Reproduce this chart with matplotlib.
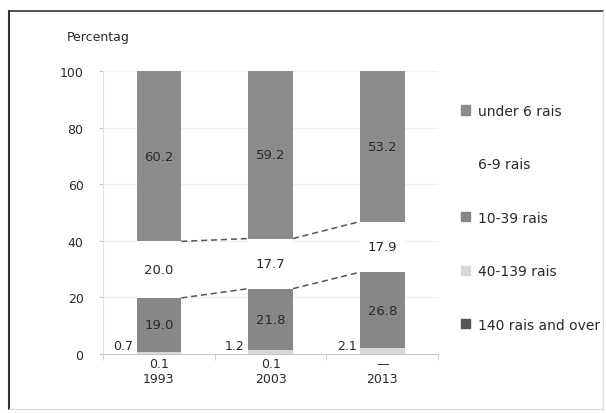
import numpy as np
import matplotlib.pyplot as plt
from matplotlib.patches import Patch
from matplotlib.lines import Line2D

years = ["1993", "2003", "2013"]
over140 = [0.1, 0.1, 0.0]
r40_139 = [0.7, 1.2, 2.1]
r10_39 = [19.0, 21.8, 26.8]
r6_9 = [20.0, 17.7, 17.9]
under6 = [60.2, 59.2, 53.2]
over140_labels = ["0.1", "0.1", "\u2014"]

legend_names = ["under 6 rais", "6-9 rais", "10-39 rais", "40-139 rais", "140 rais and over"]
colors = {"under6": "#8b8b8b", "r6_9": "#ffffff", "r10_39": "#878787",
          "r40_139": "#d8d8d8", "over140": "#555555"}

fig = plt.figure(figsize=(6.06, 4.14), dpi=100)
ax = fig.add_axes([0.170, 0.1425, 0.553, 0.6836])

x = np.arange(len(years))
w = 0.4
b0 = np.zeros(3)
ax.bar(x, over140, w, bottom=b0, color=colors["over140"], zorder=3)
b1 = b0 + over140
ax.bar(x, r40_139, w, bottom=b1, color=colors["r40_139"], zorder=3)
b2 = b1 + r40_139
ax.bar(x, r10_39, w, bottom=b2, color=colors["r10_39"], zorder=3)
b3 = b2 + r10_39
ax.bar(x, r6_9, w, bottom=b3, color=colors["r6_9"], zorder=3)
b4 = b3 + r6_9
ax.bar(x, under6, w, bottom=b4, color=colors["under6"], zorder=3)

# labels inside
lab = dict(ha="center", va="center", fontsize=9.5, color="#2a2a2a", zorder=4)
for i in range(3):
    ax.text(x[i], b2[i] + r10_39[i] / 2, f"{r10_39[i]:.1f}", **lab)
    ax.text(x[i], b3[i] + r6_9[i] / 2, f"{r6_9[i]:.1f}", **lab)
    ax.text(x[i], b4[i] + under6[i] / 2, f"{under6[i]:.1f}", **lab)
    ax.text(x[i] - w / 2 - 0.03, 3.0, f"{r40_139[i]:.1f}", ha="right", va="center",
            fontsize=9, color="#2a2a2a", zorder=4)

# series lines for 6-9 rais
for i in range(2):
    for lvl in (b3, b4):
        ax.plot([x[i] + w / 2, x[i + 1] - w / 2], [lvl[i], lvl[i + 1]], ls=(0, (4, 2.5)),
                color="#555555", lw=1.1, zorder=2)

ax.set_xlim(-0.5, 2.5)
ax.set_ylim(0, 100)
ax.set_yticks(range(0, 101, 20))
ax.set_xticks(x)
ax.set_xticklabels([f"{a}\n{y}" for a, y in zip(over140_labels, years)], fontsize=9, color="#2a2a2a")
ax.set_xticks([-0.5, 0.5, 1.5, 2.5], minor=True)
ax.tick_params(axis="x", which="major", length=0, pad=2)
ax.tick_params(axis="x", which="minor", length=4, color="#c8c8c8")
ax.tick_params(axis="y", length=3, color="#c8c8c8", labelsize=9, labelcolor="#2a2a2a", pad=11)
ax.grid(axis="y", color="#f0f0f0", lw=0.8, zorder=0)
for s in ("top", "right"):
    ax.spines[s].set_visible(False)
ax.spines["left"].set_color("#e0e0e0")
ax.spines["bottom"].set_color("#c8c8c8")

fig.text(0.110, 0.910, "Percentag", fontsize=9, color="#2a2a2a", ha="left", va="center")

handles = [Patch(color=colors[k]) for k in ["under6", "r6_9", "r10_39", "r40_139", "over140"]]
fig.legend(handles, legend_names, loc="upper left", bbox_to_anchor=(0.740, 0.777), frameon=False,
           fontsize=10, handlelength=0.65, handleheight=0.65, handletextpad=0.55, labelspacing=2.84,
           labelcolor="#2a2a2a")

# outer frame
fig.add_artist(Line2D([9 / 606, 9 / 606], [1 - 12 / 414, 1 - 410 / 414], color="#333333", lw=1.5))
fig.add_artist(Line2D([9 / 606, 603 / 606], [1 - 12 / 414, 1 - 12 / 414], color="#333333", lw=1.2))
fig.add_artist(Line2D([603 / 606, 603 / 606], [1 - 12 / 414, 1 - 410 / 414], color="#dddddd", lw=1))
fig.add_artist(Line2D([9 / 606, 603 / 606], [1 - 410 / 414, 1 - 410 / 414], color="#dddddd", lw=1))

fig.savefig("out.png", dpi=100)
